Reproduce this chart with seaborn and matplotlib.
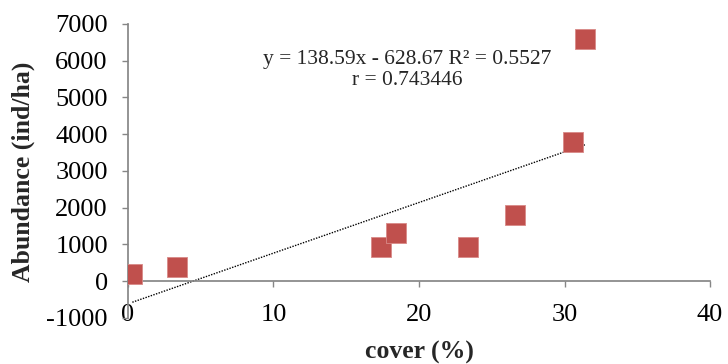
import numpy as np
import pandas as pd
import seaborn as sns
import matplotlib.pyplot as plt

# values
cover = [0.3, 3.4, 17.4, 18.4, 23.4, 26.6, 30.6, 31.4]
abundance = [200, 400, 930, 1310, 930, 1800, 3800, 6600]
x_ticks = [0, 10, 20, 30, 40]
y_ticks = [-1000, 0, 1000, 2000, 3000, 4000, 5000, 6000, 7000]
eq_text = "y = 138.59x - 628.67 R² = 0.5527\nr = 0.743446"

sns.set_theme(style="white")
plt.rcParams["font.family"] = ["Liberation Serif", "DejaVu Serif"]
plt.rcParams["axes.unicode_minus"] = False

df = pd.DataFrame({"cover": cover, "abundance": abundance})

fig = plt.figure(figsize=(7.28, 3.64), dpi=100)
ax = fig.add_axes([0.1758, 0.1264, 0.7995, 0.8077])

sns.regplot(data=df, x="cover", y="abundance", ax=ax, ci=None, scatter=False,
            line_kws={"color": "black", "linestyle": (0, (1, 1)), "linewidth": 1.0})
sns.scatterplot(data=df, x="cover", y="abundance", ax=ax, marker="s", s=200,
                color="#C0504D", edgecolor="#D98A88", linewidth=0.6, zorder=3)

ax.set_xlim(0, 40)
ax.set_ylim(-1000, 7000)
ax.set_xticks(x_ticks)
ax.set_yticks(y_ticks)

gray = "#868686"
for s in ["top", "right"]:
    ax.spines[s].set_visible(False)
ax.spines["left"].set_color(gray)
ax.spines["bottom"].set_color(gray)
ax.spines["bottom"].set_position(("data", 0))

ax.tick_params(axis="y", direction="out", length=4.5, width=1, color=gray,
               pad=10, labelsize=19, labelcolor="black", left=True)
ax.tick_params(axis="x", direction="out", length=4.5, width=1, color=gray,
               pad=12, labelsize=19, labelcolor="black", bottom=True)

ax.set_xlabel("cover (%)", fontsize=18.5, fontweight="bold")
ax.set_ylabel("Abundance (ind/ha)", fontsize=18.5, fontweight="bold")
ax.xaxis.set_label_coords(419 / 728, 1 - 341 / 364, transform=fig.transFigure)
ax.yaxis.set_label_coords(35 / 728, 1 - 172 / 364, transform=fig.transFigure)

ax.text(0.479, 0.845, eq_text, transform=ax.transAxes, ha="center", va="center",
        fontsize=15.5, linespacing=1.15)

plt.savefig("out.png", dpi=100)
plt.close()
